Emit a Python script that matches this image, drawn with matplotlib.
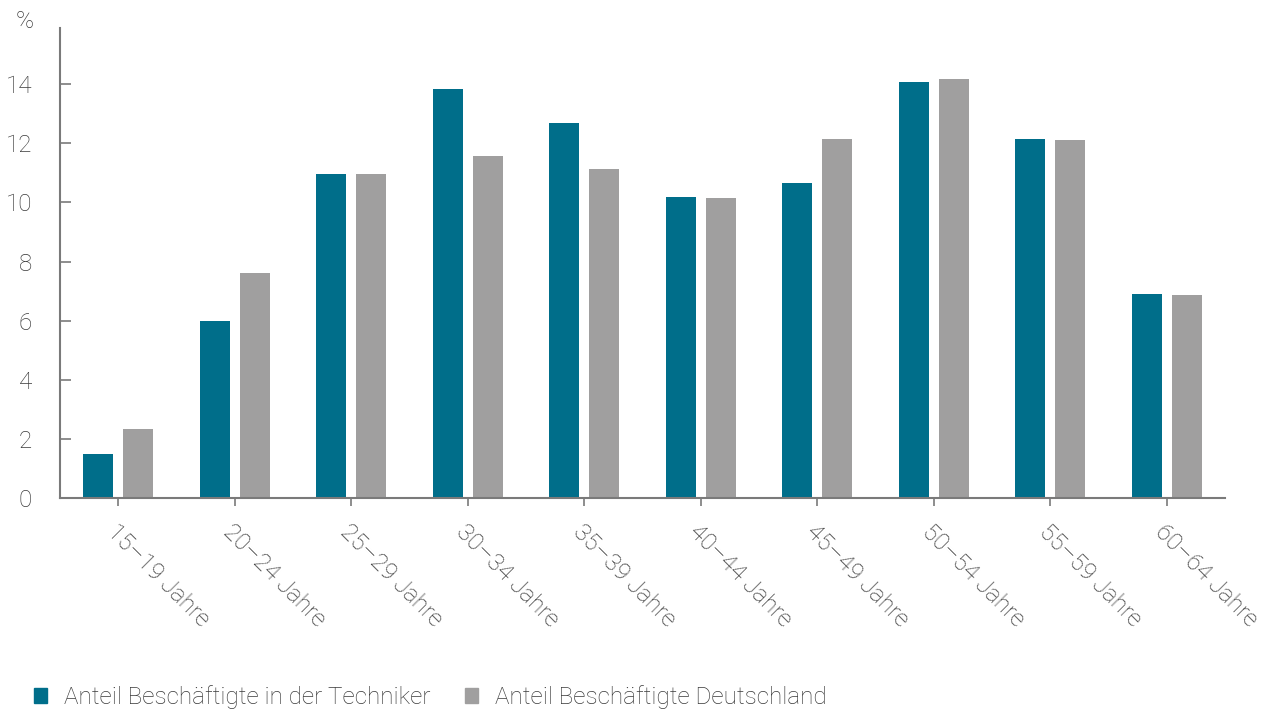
import numpy as np
import matplotlib.pyplot as plt
from matplotlib.patches import Patch

# Altersgruppen und Anteile (%)
gruppen = ['15–19 Jahre', '20–24 Jahre', '25–29 Jahre', '30–34 Jahre', '35–39 Jahre',
           '40–44 Jahre', '45–49 Jahre', '50–54 Jahre', '55–59 Jahre', '60–64 Jahre']
techniker = [1.5, 6.0, 10.95, 13.82, 12.68, 10.18, 10.65, 14.07, 12.16, 6.9]
deutschland = [2.34, 7.6, 10.97, 11.56, 11.12, 10.14, 12.16, 14.16, 12.1, 6.86]
yticks = [0, 2, 4, 6, 8, 10, 12, 14]

teal = '#006e8a'
grau = '#a09f9f'
text_c = '#3a3a3a'
achse = '#7a7a7a'

plt.rcParams['font.family'] = ['Roboto', 'DejaVu Sans']
plt.rcParams['font.weight'] = 'light'
fs = 17.5

fig = plt.figure(figsize=(12.65, 7.09), dpi=100)
ax = fig.add_axes([60 / 1265, 1 - 498 / 709, 1165 / 1265, 470 / 709])

x = np.arange(len(gruppen))
w = 0.257
off = 0.171
ax.bar(x - off, techniker, w, color=teal)
ax.bar(x + off, deutschland, w, color=grau)

ax.set_xlim(-0.5, 9.5)
ax.set_ylim(0, 15.9)
ax.set_yticks(yticks)
ax.set_xticks(x)
ax.set_xticklabels(gruppen, rotation=-45, ha='left', rotation_mode='anchor')

for s in ['top', 'right']:
    ax.spines[s].set_visible(False)
for s in ['left', 'bottom']:
    ax.spines[s].set_color(achse)
    ax.spines[s].set_linewidth(1.5)

ax.tick_params(axis='y', direction='in', length=8, width=1.2, color=achse,
               labelsize=fs, labelcolor=text_c, pad=20)
ax.tick_params(axis='x', direction='out', length=6, width=1.2, color=achse,
               labelsize=fs, labelcolor=text_c, pad=10)

fig.text(16 / 1265, 1 - 22 / 709, '%', fontsize=fs, color=text_c, va='center')

handles = [Patch(color=teal, label='Anteil Beschäftigte in der Techniker'),
           Patch(color=grau, label='Anteil Beschäftigte Deutschland')]
fig.legend(handles=handles, loc='center left', bbox_to_anchor=(12 / 1265, 1 - 697 / 709),
           ncol=2, frameon=False, fontsize=fs, labelcolor=text_c,
           handlelength=0.55, handleheight=0.55, handletextpad=0.7, columnspacing=1.4)

fig.savefig('out.png', dpi=100)
